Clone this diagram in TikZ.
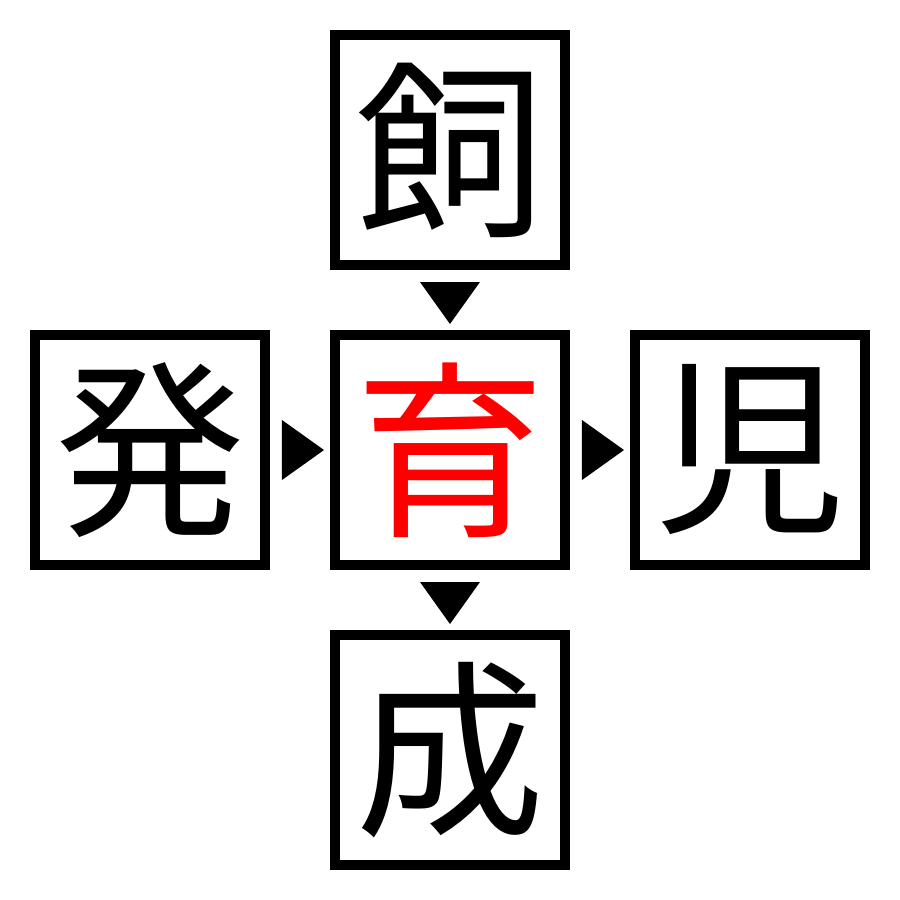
\documentclass[tikz,border=0pt]{standalone}
\usepackage{fontspec}
\usepackage{tikz}
\usetikzlibrary{positioning}
\usetikzlibrary{calc}
\newfontfamily\cjk{Noto Sans CJK JP}

\tikzset{
    kanjibox/.style={draw, line width=0.1cm, minimum size=2.3cm, inner sep=0pt,
        font=\cjk\fontsize{54}{54}\selectfont},
    pointer/.style={fill=black}
}

\begin{document}
\begin{tikzpicture}
                \useasboundingbox (-4.5,-4.5) rectangle (4.5,4.5);
                \node[kanjibox, text=red] (iku) at (0,0) {育};
                \node[kanjibox, above=0.6cm of iku] (shi) {飼};
                \node[kanjibox, below=0.6cm of iku] (sei) {成};
                \node[kanjibox, left=0.6cm of iku] (hatsu) {発};
                \node[kanjibox, right=0.6cm of iku] (ji) {児};
                % markers between the boxes
                \fill[pointer] ($(shi.south)+(-0.3,-0.12)$) -- ($(shi.south)+(0.3,-0.12)$) -- ($(iku.north)+(0,0.06)$) -- cycle;
                \fill[pointer] ($(iku.south)+(-0.3,-0.12)$) -- ($(iku.south)+(0.3,-0.12)$) -- ($(sei.north)+(0,0.06)$) -- cycle;
                \fill[pointer] ($(hatsu.east)+(0.12,0.3)$) -- ($(hatsu.east)+(0.12,-0.3)$) -- ($(iku.west)+(-0.06,0)$) -- cycle;
                \fill[pointer] ($(iku.east)+(0.12,0.3)$) -- ($(iku.east)+(0.12,-0.3)$) -- ($(ji.west)+(-0.06,0)$) -- cycle;
            \end{tikzpicture}
\end{document}
